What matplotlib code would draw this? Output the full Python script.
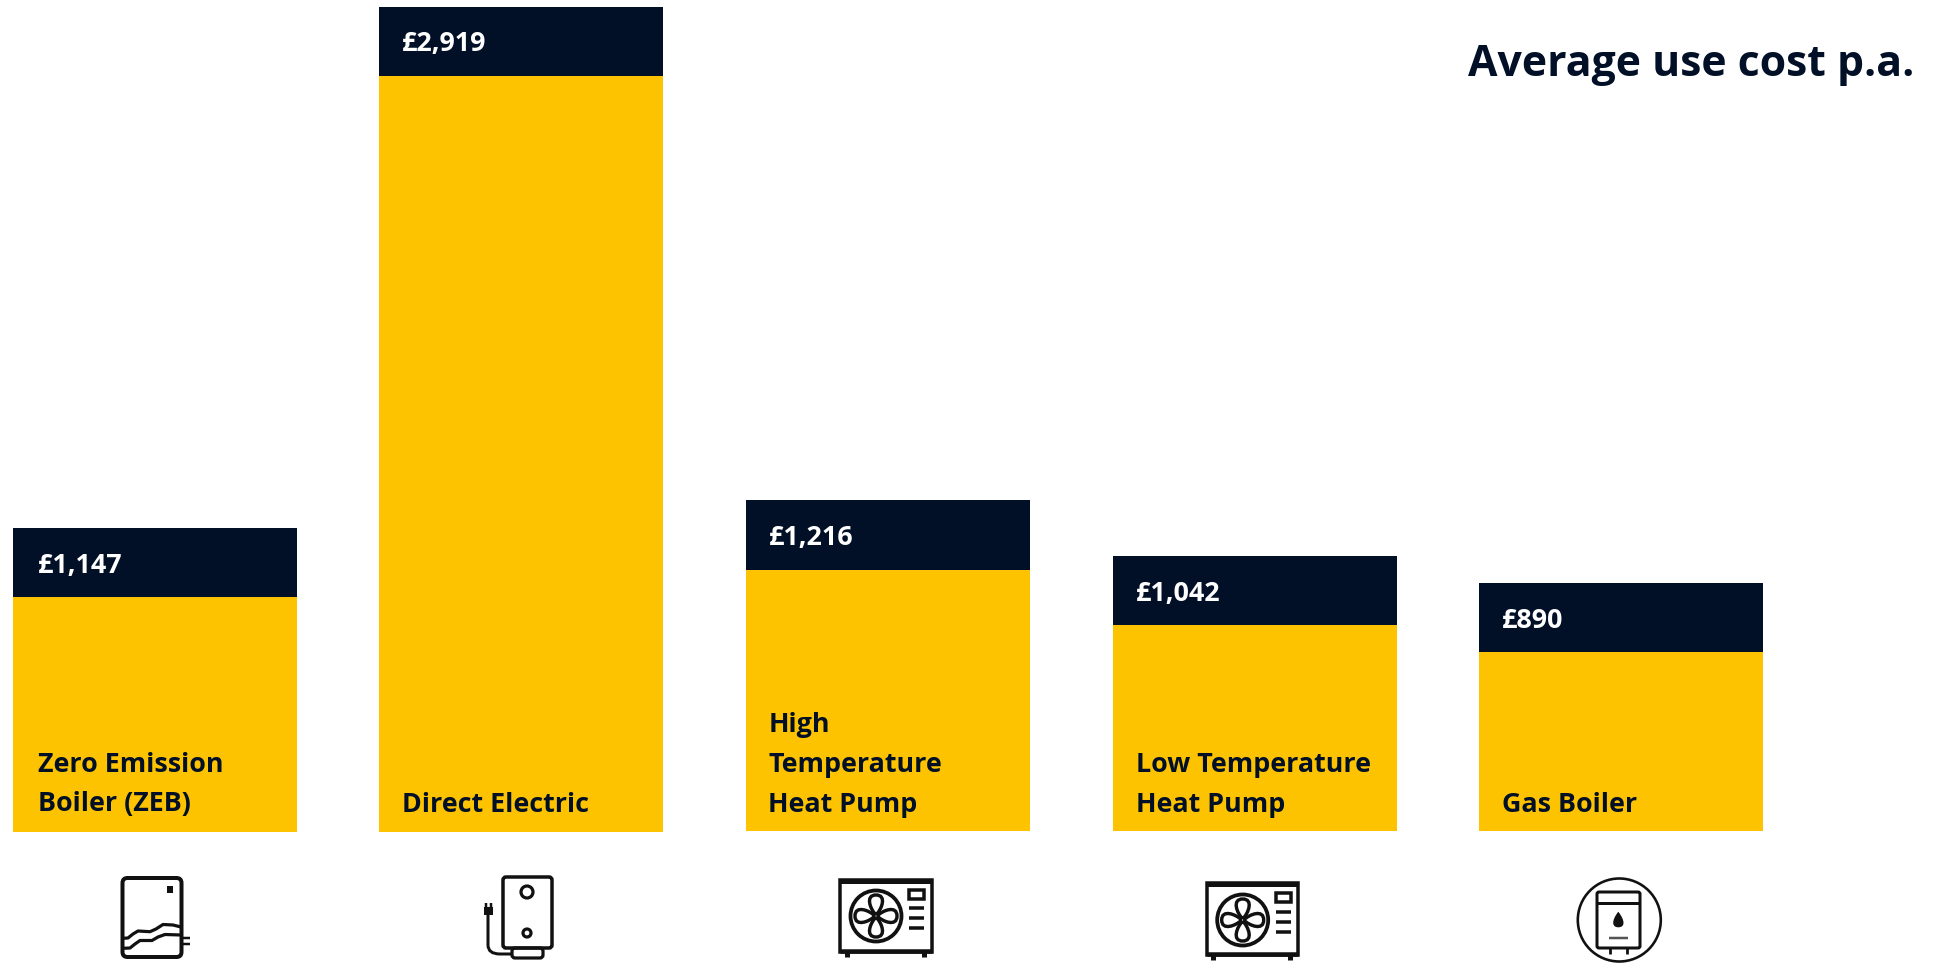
import numpy as np
import matplotlib
matplotlib.use("Agg")
import matplotlib.pyplot as plt
from matplotlib.patches import Ellipse, Rectangle, FancyBboxPatch, PathPatch
from matplotlib.path import Path

plt.rcParams['font.family'] = ['Open Sans', 'DejaVu Sans']

# data, bar heights (they are not quite proportional to the labels)
labels = ["Zero Emission\nBoiler (ZEB)", "Direct Electric", "High\nTemperature\nHeat Pump", "Low Temperature\nHeat Pump", "Gas Boiler"]
cost_labels = ["£1,147", "£2,919", "£1,216", "£1,042", "£890"]
bar_heights = [304, 825, 330.5, 275, 248]

YELLOW = "#fec300"
NAVY = "#011027"
INK = "#111111"
W, H = 1939, 963
bar_lefts = np.array([13, 379, 746, 1113, 1479])
bar_bottoms = np.array([832, 832, 831, 831, 831])
text_pads = [25, 22.5, 22.5, 22.5, 22.5]
bar_width = 284
cap_height = 69.5

fig = plt.figure(figsize=(W / 100, H / 100), dpi=100)
ax = fig.add_axes([0, 0, 1, 1])
ax.set_xlim(0, W)
ax.set_ylim(H, 0)
ax.axis("off")


def px(w):
    return w * 0.72


def line(xs, ys, w=4, color=INK):
    ax.plot(xs, ys, color=color, lw=px(w), solid_capstyle="butt", solid_joinstyle="round")


def box(x0, y0, x1, y1, w=3.5, fill="none"):
    ax.add_patch(Rectangle((x0, y0), x1 - x0, y1 - y0, fc=fill, ec=INK, lw=px(w)))


def round_box(x0, y0, x1, y1, w=3.5, r=4):
    ax.add_patch(FancyBboxPatch((x0 + r, y0 + r), x1 - x0 - 2 * r, y1 - y0 - 2 * r,
                                boxstyle=f"round,pad={r},rounding_size={r}", fc="none", ec=INK, lw=px(w)))


def circle(cx, cy, r, w=3.5, fill="none"):
    ax.add_patch(Ellipse((cx, cy), 2 * r, 2 * r, fc=fill, ec=INK, lw=px(w)))


def fan_unit(x0, y0, x1, y1, foot, fan_x, fan_y, sq_x, sq_y, row_x, row_ys):
    box(x0, y0, x1, y1, w=3.5)
    line([x0, x1], [y0 + 1, y0 + 1], w=5)
    line([x0, x1], [y1 - 1, y1 - 1], w=4.5)
    for fx in foot:
        line([fx, fx], [y1, y1 + 5.5], w=5)
    circle(fan_x, fan_y, 25.5, w=3.8)
    # four petals of the fan
    for ang in [0, 90, 180, 270]:
        t = np.radians(ang)
        c, s = np.cos(t), np.sin(t)
        pts = np.array([[1, 0], [7, -6], [21, -11], [21, 0], [21, 11], [7, 6], [1, 0]])
        rot = np.c_[pts[:, 0] * c - pts[:, 1] * s + fan_x, pts[:, 0] * s + pts[:, 1] * c + fan_y]
        codes = [Path.MOVETO, Path.CURVE4, Path.CURVE4, Path.CURVE4, Path.CURVE4, Path.CURVE4, Path.CURVE4]
        ax.add_patch(PathPatch(Path(rot, codes), fc="none", ec=INK, lw=px(3.4)))
    box(sq_x[0], sq_y[0], sq_x[1], sq_y[1], w=3.5)
    for ry in row_ys:
        line(row_x, [ry, ry], w=3.5)


# bars
centers = bar_lefts + bar_width / 2
heights = np.array(bar_heights)
ax.bar(centers, -heights, width=bar_width, bottom=bar_bottoms, color=YELLOW, linewidth=0)
ax.bar(centers, cap_height, width=bar_width, bottom=bar_bottoms - heights, color=NAVY, linewidth=0)

for left, pad, bottom, h, cost, label in zip(bar_lefts, text_pads, bar_bottoms, heights, cost_labels, labels):
    ax.text(left + pad, bottom - h + 44.5, cost, color="white", fontsize=19.4, fontweight="bold", va="baseline")
    for i, part in enumerate(reversed(label.split("\n"))):
        ax.text(left + pad, 811.5 - i * 40, part, color=NAVY, fontsize=19.4, fontweight="bold", va="baseline")

ax.text(1914.5, 76, "Average use cost p.a.", color=NAVY, fontsize=30.8, fontweight="bold", ha="right", va="baseline")

# icon 1, zero emission boiler
round_box(122.5, 878, 181.5, 957, w=4, r=5)
ax.add_patch(Rectangle((167, 886), 5.7, 6.7, fc=INK, ec="none"))
line([123, 128, 133, 138, 150, 156, 163, 173, 181],
     [938.3, 938, 934, 931, 931.7, 929, 924.5, 925, 927], w=3.2)
line([123, 130, 135, 140, 152, 158, 165, 181],
     [948.3, 948, 944, 940.5, 940.5, 937, 934.5, 935], w=3.2)
line([182, 190], [937.7, 937.7], w=2.5)
line([182, 190], [944, 944], w=2.5)

# icon 2, direct electric
round_box(503, 877, 552, 948, w=3.5, r=3)
circle(527, 892, 6, w=3.2)
circle(527, 933, 4, w=3.2)
round_box(512, 948, 543, 958, w=3.2, r=3)
ax.add_patch(PathPatch(Path([(488, 915), (488, 945), (488, 954), (500, 954), (512, 954)],
                            [Path.MOVETO, Path.LINETO, Path.CURVE3, Path.CURVE3, Path.LINETO]),
                       fc="none", ec=INK, lw=px(3)))
ax.add_patch(Rectangle((484, 907), 9, 8, fc=INK, ec="none"))
line([486, 486], [903, 908], w=2.5)
line([491, 491], [903, 908], w=2.5)

# icons 3 and 4, heat pumps
fan_unit(840, 880, 931.7, 951.7, (846.7, 924.3), 876, 916, (909, 924), (890.5, 899.5), (909, 924), (908, 918, 928))
fan_unit(1206.7, 883.5, 1298.3, 955, (1213, 1290), 1242.7, 920, (1276, 1290.5), (893.5, 902.5), (1276, 1291), (911.7, 921.7, 931.7))

# icon 5, gas boiler
circle(1619.3, 920, 41.5, w=2.6)
round_box(1597, 892, 1640, 948, w=3, r=2)
line([1597, 1640], [903.3, 903.3], w=3)
for fx in (1610, 1626.7):
    line([fx, fx], [948, 954], w=2.8)
line([1609, 1628], [937.7, 937.7], w=2.5, color="#555555")
ax.add_patch(PathPatch(Path([(1618.3, 911.7), (1611, 921), (1612, 927.3), (1618.3, 927.3), (1625, 927.3), (1625.5, 921), (1618.3, 911.7)],
                            [Path.MOVETO, Path.CURVE4, Path.CURVE4, Path.CURVE4, Path.CURVE4, Path.CURVE4, Path.CURVE4]),
                       fc=INK, ec="none"))

fig.savefig("out.png", dpi=100)
